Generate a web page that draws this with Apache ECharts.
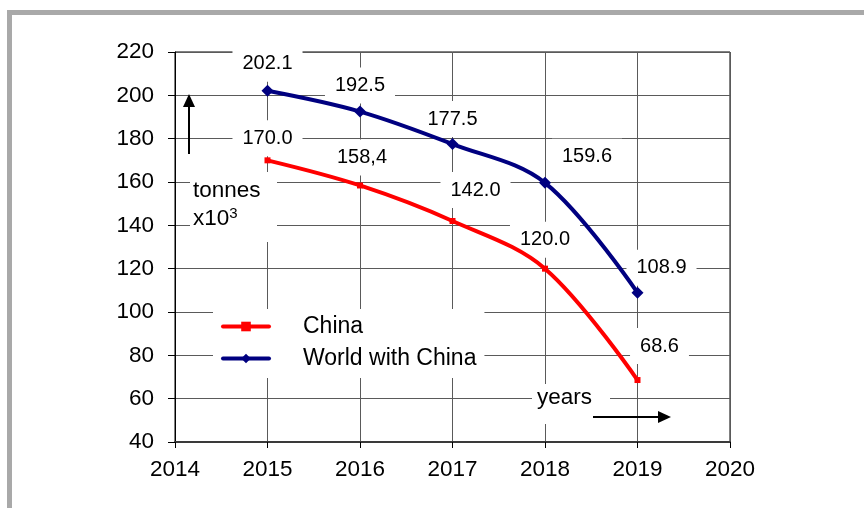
<!DOCTYPE html>
<html><head><meta charset="utf-8">
<script src="https://cdn.jsdelivr.net/npm/echarts@6/dist/echarts.min.js"></script>
<style>html,body{margin:0;padding:0;background:#fff}#c{width:864px;height:508px}</style>
</head><body><div id="c"></div>
<script>
// ---- data ----
const years = [2015, 2016, 2017, 2018, 2019];
const china = [170.0, 158.4, 142.0, 120.0, 68.6];
const world = [202.1, 192.5, 177.5, 159.6, 108.9];
const chinaLabels = ['170.0', '158,4', '142.0', '120.0', '68.6'];
const worldLabels = ['202.1', '192.5', '177.5', '159.6', '108.9'];
const seriesNames = ['China', 'World with China'];
const xMin = 2014, xMax = 2020, yMin = 40, yMax = 220, yStep = 20;

// ---- label placement (style) ----
const chinaOffsets = [[0,-22],[2,-28],[23,-31],[0,-29],[22,-34]];
const worldOffsets = [[0,-27],[0,-26],[0,-25],[42,-26],[24,-25]];

const FONT = '"Liberation Sans", Arial, sans-serif';
const labelBase = {
  show: true, position: 'inside', align: 'center', verticalAlign: 'middle',
  color: '#000', opacity: 1, fontSize: 20, fontFamily: FONT,
  backgroundColor: '#fff', padding: [8, 10]
};
function pts(vals) { return years.map((y, i) => [y, vals[i]]); }
function lbl(vals, labels, offs) {
  return years.map((y, i) => ({
    value: [y, vals[i]],
    label: Object.assign({}, labelBase, { formatter: labels[i], offset: offs[i] })
  }));
}

const chart = echarts.init(document.getElementById('c'), null, { renderer: 'canvas' });
chart.setOption({
  animation: false,
  backgroundColor: '#fff',
  grid: { left: 175, right: 134, top: 52, bottom: 66, show: true, borderColor: '#000', borderWidth: 1 },
  xAxis: {
    type: 'value', min: xMin, max: xMax, interval: 1,
    axisLine: { show: true, lineStyle: { color: '#3a3a3a', width: 2 } },
    axisTick: { show: true, length: 6, lineStyle: { color: '#000' } },
    axisLabel: { color: '#000', fontSize: 22.5, fontFamily: FONT, margin: 16, formatter: v => String(v) },
    splitLine: { show: true, lineStyle: { color: '#5a5a5a', width: 1 } }
  },
  yAxis: {
    type: 'value', min: yMin, max: yMax, interval: yStep,
    axisLine: { show: true, lineStyle: { color: '#000', width: 1 } },
    axisTick: { show: true, length: 7, lineStyle: { color: '#000' } },
    axisLabel: { color: '#000', fontSize: 22.5, fontFamily: FONT, margin: 21 },
    splitLine: { show: true, lineStyle: { color: '#5a5a5a', width: 1 } }
  },
  legend: {
    orient: 'vertical', left: 213, top: 309,
    backgroundColor: '#fff', padding: [6, 8, 8, 8],
    itemWidth: 46, itemHeight: 12, itemGap: 9,
    data: seriesNames,
    lineStyle: { width: 4, cap: 'round' },
    textStyle: { color: '#000', fontSize: 23, fontFamily: FONT, padding: [8, 0, 0, 29] }
  },
  series: [
    {
      name: seriesNames[0], type: 'line', smooth: 0.35,
      data: pts(china),
      symbol: 'rect', symbolSize: 6,
      lineStyle: { color: '#ff0000', width: 4 },
      itemStyle: { color: '#ff0000' },
      label: { show: false },
      z: 5
    },
    {
      name: seriesNames[1], type: 'line', smooth: 0.35,
      data: pts(world),
      symbol: 'diamond', symbolSize: 12,
      lineStyle: { color: '#000080', width: 4 },
      itemStyle: { color: '#000080' },
      label: { show: false },
      z: 6
    },
    {
      name: 'chinaLabels', type: 'scatter', data: lbl(china, chinaLabels, chinaOffsets),
      symbolSize: 0.5, itemStyle: { color: '#fff', opacity: 1 }, z: 2, silent: true
    },
    {
      name: 'worldLabels', type: 'scatter', data: lbl(world, worldLabels, worldOffsets),
      symbolSize: 0.5, itemStyle: { color: '#fff', opacity: 1 }, z: 2, silent: true
    }
  ],
  graphic: [
    { type: 'rect', z: 100, shape: { x: 9.5, y: 12.5, width: 900, height: 600 },
      style: { fill: 'none', stroke: '#a9a9a9', lineWidth: 5 } },
    // y-axis unit annotation
    { type: 'rect', z: 3, shape: { x: 190, y: 172, width: 87, height: 70 }, style: { fill: '#fff' } },
    { type: 'text', z: 4, left: 193, top: 179,
      style: { text: 'tonnes', fill: '#000', font: '22.5px ' + FONT } },
    { type: 'text', z: 4, left: 193, top: 206,
      style: { rich: { a: { fontSize: 22.5, fontFamily: FONT, fill: '#000' }, s: { fontSize: 15, fontFamily: FONT, fill: '#000', verticalAlign: 'top', padding:[0,0,10,0] } },
               text: '{a|x10}{s|3}', fill: '#000' } },
    // up arrow
    { type: 'line', z: 100, shape: { x1: 189, y1: 154, x2: 189, y2: 104 }, style: { stroke: '#000', lineWidth: 2 } },
    { type: 'polygon', z: 100, shape: { points: [[183, 107], [195, 107], [189, 94]] }, style: { fill: '#000' } },
    // years annotation
    { type: 'rect', z: 3, shape: { x: 532, y: 384, width: 78, height: 40 }, style: { fill: '#fff' } },
    { type: 'text', z: 4, left: 537, top: 386,
      style: { text: 'years', fill: '#000', font: '22.5px ' + FONT } },
    // right arrow
    { type: 'line', z: 102, shape: { x1: 593, y1: 417, x2: 660, y2: 417 }, style: { stroke: '#000', lineWidth: 2 } },
    { type: 'polygon', z: 102, shape: { points: [[658, 411], [658, 423], [671, 417]] }, style: { fill: '#000' } }
  ]
});
</script></body></html>
